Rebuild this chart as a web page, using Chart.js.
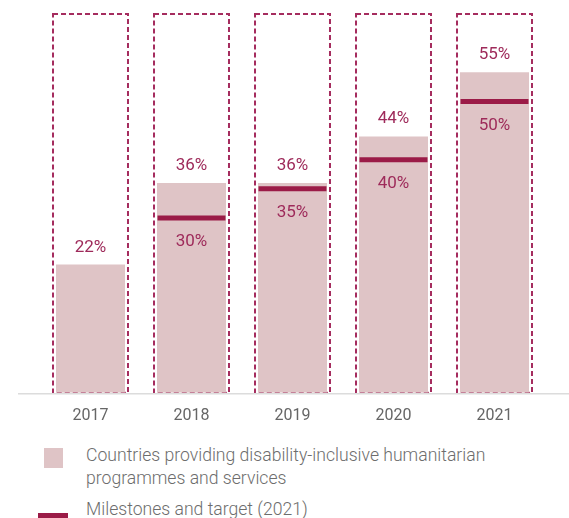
<!DOCTYPE html>
<html>
<head>
<meta charset="utf-8">
<script src="https://cdn.jsdelivr.net/npm/chart.js@4.4.1/dist/chart.umd.min.js"></script>
<style>
  html, body { margin: 0; padding: 0; background: #ffffff; }
  #wrap { position: relative; width: 569px; height: 518px; overflow: hidden; font-family: Roboto, "Liberation Sans", sans-serif; }
  #chartBox { position: absolute; left: 0; top: 0; width: 569px; height: 440px; }
  .lg-swatch { position: absolute; left: 44px; top: 448px; width: 19px; height: 20px; background: #dfc4c6; }
  .lg-line { position: absolute; left: 38px; top: 513px; width: 30px; height: 5px; background: #9b1b47; }
  .lg-text { position: absolute; left: 86px; color: #6d6d6d; font-size: 17.6px; line-height: 22.5px; font-weight: 300; white-space: nowrap; }
</style>
</head>
<body>
<div id="wrap">
  <div id="chartBox"><canvas id="c" width="569" height="440"></canvas></div>
  <div class="lg-swatch"></div>
  <div class="lg-text" id="lg1" style="top:444px;"></div>
  <div class="lg-line"></div>
  <div class="lg-text" id="lg2" style="top:498px;"></div>
</div>
<script>
// ---- data ----
const years = ['2017', '2018', '2019', '2020', '2021'];
const countriesPct = [22, 36, 36, 44, 55];
const milestonesPct = [null, 30, 35, 40, 50];
const seriesNames = ['Countries providing disability-inclusive humanitarian', 'programmes and services'];
const milestoneName = 'Milestones and target (2021)';
const axisMax = 65;

document.getElementById('lg1').innerHTML = seriesNames.join('<br>');
document.getElementById('lg2').textContent = milestoneName;

const BAR_COLOR = '#dfc4c6';
const MAROON = '#9b1b47';
const FRAME = '#a52c5e';
const LABEL = '#9e2a5a';

const framesPlugin = {
  id: 'frames',
  beforeDatasetsDraw(chart) {
    const ctx = chart.ctx;
    const area = chart.chartArea;
    const meta = chart.getDatasetMeta(1);
    ctx.save();
    ctx.strokeStyle = FRAME;
    ctx.lineWidth = 2;
    ctx.setLineDash([5, 3]);
    meta.data.forEach(el => {
      const half = el.width / 2 + 3;
      ctx.strokeRect(el.x - half, area.top, half * 2, area.bottom - area.top);
    });
    ctx.restore();
    // axis line
    ctx.save();
    ctx.strokeStyle = '#dcdcdc';
    ctx.lineWidth = 1.5;
    ctx.beginPath();
    ctx.moveTo(18, area.bottom + 1);
    ctx.lineTo(chart.width, area.bottom + 1);
    ctx.stroke();
    ctx.restore();
  }
};

const labelsPlugin = {
  id: 'valueLabels',
  afterDatasetsDraw(chart) {
    const ctx = chart.ctx;
    const yScale = chart.scales.y;
    const meta = chart.getDatasetMeta(1);
    ctx.save();
    ctx.fillStyle = LABEL;
    ctx.font = '17px Roboto, "Liberation Sans", sans-serif';
    ctx.textAlign = 'center';
    ctx.textBaseline = 'alphabetic';
    meta.data.forEach((el, i) => {
      const m = milestonesPct[i];
      let top = el.y;
      if (m !== null) {
        const my = yScale.getPixelForValue(m);
        top = Math.min(top, my - 2.5);
        ctx.fillText(m + '%', el.x, my + 28.5);
      }
      ctx.fillText(countriesPct[i] + '%', el.x, top - 13);
    });
    ctx.restore();
  }
};

new Chart(document.getElementById('c'), {
  type: 'bar',
  data: {
    labels: years,
    datasets: [
      {
        type: 'line',
        label: milestoneName,
        data: milestonesPct,
        showLine: false,
        pointStyle: 'line',
        pointRadius: 34,
        pointHoverRadius: 34,
        pointBorderWidth: 5,
        pointBorderColor: MAROON,
        pointBackgroundColor: MAROON,
        clip: false,
        order: 0
      },
      {
        type: 'bar',
        label: seriesNames.join(' '),
        data: countriesPct,
        backgroundColor: BAR_COLOR,
        borderWidth: 0,
        categoryPercentage: 1,
        barPercentage: 0.683,
        grouped: false,
        order: 1
      }
    ]
  },
  options: {
    responsive: false,
    animation: false,
    events: [],
    layout: { autoPadding: false, padding: { top: 14, left: 40, right: 24, bottom: 0 } },
    plugins: { legend: { display: false }, tooltip: { enabled: false } },
    scales: {
      x: {
        grid: { display: false, drawTicks: false },
        border: { display: false },
        ticks: {
          color: '#666666',
          padding: 14,
          font: { family: 'Roboto, "Liberation Sans", sans-serif', size: 16 }
        }
      },
      y: {
        display: false,
        min: 0,
        max: axisMax
      }
    }
  },
  plugins: [framesPlugin, labelsPlugin]
});
</script>
</body>
</html>
